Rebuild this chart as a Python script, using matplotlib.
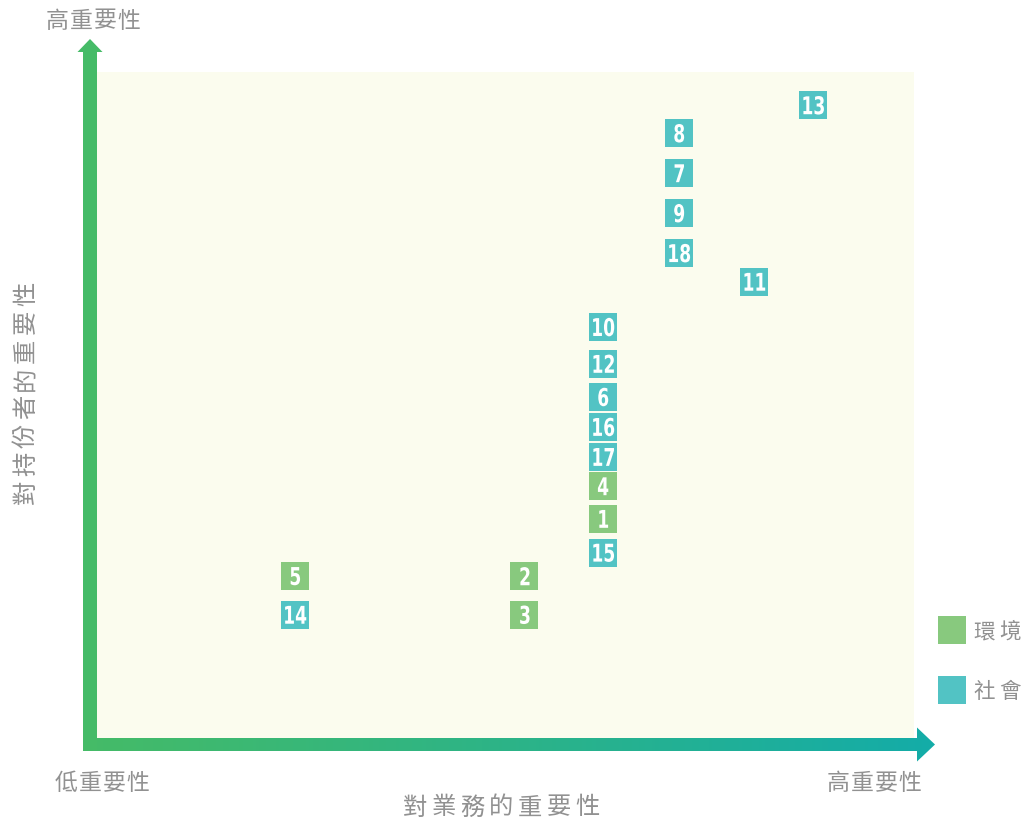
import numpy as np
import matplotlib.pyplot as plt
from matplotlib.patches import Polygon, PathPatch
from matplotlib.colors import LinearSegmentedColormap
from matplotlib.textpath import TextPath
from matplotlib.font_manager import FontProperties
from matplotlib.transforms import Affine2D, ScaledTranslation

# 議題編號、類別與位置（對業務的重要性, 對持份者的重要性）
topic_ids = ['1', '2', '3', '4', '5', '6', '7', '8', '9', '10',
             '11', '12', '13', '14', '15', '16', '17', '18']
topic_cat = ['環境'] * 5 + ['社會'] * 13
business = [6.19, 5.23, 5.23, 6.19, 2.42, 6.19, 7.12, 7.12, 7.12, 6.19,
            8.04, 6.19, 8.76, 2.42, 6.19, 6.19, 6.19, 7.12]
stakeholder = [3.29, 2.43, 1.85, 3.78, 2.43, 5.12, 8.48, 9.08, 7.88, 6.17,
               6.85, 5.62, 9.50, 1.85, 2.78, 4.67, 4.22, 7.28]

categories = ['環境', '社會']
cat_colors = {'環境': '#88C97E', '社會': '#52C3C4'}

CJK = ['Noto Sans CJK TC', 'DejaVu Sans']
TXT = '#919191'

W, H = 1024, 821
fig = plt.figure(figsize=(W / 100, H / 100), dpi=100)

# overlay in pixel coords for arrows / labels
ov = fig.add_axes([0, 0, 1, 1], zorder=0)
ov.axis('off')

grad = LinearSegmentedColormap.from_list('g', ['#45BB67', '#14ACA8'])
img = ov.imshow(np.linspace(0, 1, 256)[None, :], cmap=grad, aspect='auto',
                extent=[83, 935, 762, 727])
harrow = Polygon([(83, 738), (917, 738), (917, 727.5), (935, 744.5),
                  (917, 761.5), (917, 751), (83, 751)],
                 closed=True, facecolor='none', edgecolor='none')
ov.add_patch(harrow)
img.set_clip_path(harrow)

varrow = Polygon([(83, 751), (83, 52), (77.5, 52), (90, 39), (102.5, 52),
                  (97, 52), (97, 751)],
                 closed=True, facecolor='#45BB67', edgecolor='none')
ov.add_patch(varrow)


def spaced(x0, y, s, step, size, rot=0):
    for i, ch in enumerate(s):
        if rot:
            ov.text(x0, y - i * step, ch, rotation=rot, ha='center', va='center',
                    fontsize=size, color=TXT, family=CJK)
        else:
            ov.text(x0 + i * step, y, ch, ha='center', va='center',
                    fontsize=size, color=TXT, family=CJK)


spaced(57, 21, '高重要性', 24, 16.5)
spaced(66, 783.5, '低重要性', 24, 16.5)
spaced(838, 783.5, '高重要性', 24, 16.5)
spaced(415, 807.5, '對業務的重要性', 28.7, 17.5)
spaced(26, 492, '對持份者的重要性', 28.3, 17.5, rot=90)

# legend
for i, c in enumerate(categories):
    yc = 630 + i * 60
    ov.add_patch(Polygon([(938, yc - 14), (966, yc - 14), (966, yc + 14), (938, yc + 14)],
                         closed=True, facecolor=cat_colors[c], edgecolor='none'))
    spaced(984, yc + 2, c, 26, 15.5)

ov.set_xlim(0, W)
ov.set_ylim(H, 0)

# data area
ax = fig.add_axes([97 / W, 1 - 738 / H, 817 / W, 666 / H], zorder=1)
ax.set_facecolor('#FBFCEE')
for sp in ax.spines.values():
    sp.set_visible(False)
ax.set_xticks([])
ax.set_yticks([])
ax.set_xlim(0, 10)
ax.set_ylim(0, 10)

ax.scatter(business, stakeholder, marker='s', s=406, linewidths=0,
           c=[cat_colors[c] for c in topic_cat], zorder=2)

# condensed white numbers
numfont = FontProperties(family='DejaVu Sans', weight='bold')
for tid, xv, yv in zip(topic_ids, business, stakeholder):
    tp = TextPath((0, 0), tid, size=24.5, prop=numfont)
    v = tp.vertices
    cx = (v[:, 0].min() + v[:, 0].max()) / 2
    cy = (v[:, 1].min() + v[:, 1].max()) / 2
    tr = (Affine2D().translate(-cx, -cy).scale(0.7, 1.0)
          + ScaledTranslation(xv, yv, ax.transData))
    ax.add_patch(PathPatch(tp, transform=tr, facecolor='white',
                           edgecolor='none', zorder=3))

fig.savefig('out.png', dpi=100)
